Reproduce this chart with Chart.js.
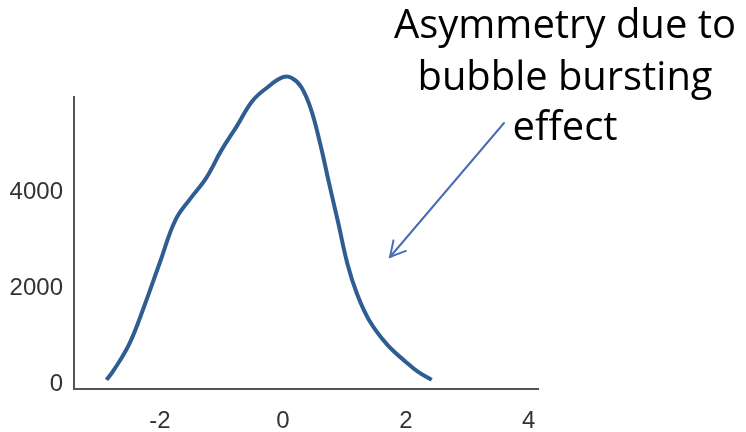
<!DOCTYPE html>
<html>
<head>
<meta charset="utf-8">
<script src="https://cdn.jsdelivr.net/npm/chart.js@4/dist/chart.umd.min.js"></script>
<style>
  html, body { margin: 0; padding: 0; background: #ffffff; }
  #wrap { position: relative; width: 746px; height: 432px; }
</style>
</head>
<body>
<div id="wrap"><canvas id="chart"></canvas></div>
<script>
// Distribution of the measured quantity (counts per bin)
const binCenters = [-2.87, -2.75, -2.5, -2.25, -2.0, -1.75, -1.5, -1.25, -1.0, -0.75,
                    -0.5, -0.25, 0.0, 0.15, 0.3, 0.45, 0.6, 0.75, 0.9, 1.05,
                    1.2, 1.4, 1.7, 2.0, 2.2, 2.42];
const counts = [0, 208, 750, 1563, 2458, 3333, 3792, 4208, 4792, 5292,
                5812, 6104, 6312, 6292, 6104, 5667, 4958, 4104, 3271, 2417,
                1812, 1250, 729, 375, 167, 0];
const xTicks = [-2, 0, 2, 4];
const yTicks = [0, 2000, 4000];
const noteLines = ['Asymmetry due to', 'bubble bursting', 'effect'];

const points = binCenters.map((x, i) => ({ x: x, y: counts[i] }));

// Callout text with an arrow pointing at the right-hand tail
const calloutPlugin = {
  id: 'callout',
  afterDraw(chart) {
    const ctx = chart.ctx;
    ctx.save();
    ctx.fillStyle = '#000000';
    ctx.font = '40px "Open Sans", "Noto Sans", sans-serif';
    ctx.textAlign = 'center';
    ctx.textBaseline = 'alphabetic';
    const cx = 565;
    const baselines = [38, 90, 140];
    const widths = [345, 295, 105];
    noteLines.forEach((t, i) => ctx.fillText(t, cx, baselines[i], widths[i]));

    // arrow
    const x0 = 504, y0 = 123, x1 = 390, y1 = 257;
    ctx.strokeStyle = '#4a6cb3';
    ctx.lineWidth = 2;
    ctx.lineCap = 'round';
    ctx.beginPath();
    ctx.moveTo(x0, y0);
    ctx.lineTo(x1, y1);
    ctx.stroke();
    const ang = Math.atan2(y1 - y0, x1 - x0);
    const len = 17, spread = 0.5;
    ctx.beginPath();
    ctx.moveTo(x1 - len * Math.cos(ang - spread), y1 - len * Math.sin(ang - spread));
    ctx.lineTo(x1, y1);
    ctx.lineTo(x1 - len * Math.cos(ang + spread), y1 - len * Math.sin(ang + spread));
    ctx.stroke();
    ctx.restore();
  }
};

const tickFont = { family: '"Liberation Sans", Arial, sans-serif', size: 24 };

new Chart(document.getElementById('chart'), {
  type: 'line',
  data: {
    datasets: [{
      data: points,
      borderColor: '#2f5d92',
      borderWidth: 4,
      pointRadius: 0,
      fill: false,
      tension: 0.4,
      clip: false
    }]
  },
  options: {
    responsive: true,
    maintainAspectRatio: false,
    animation: false,
    events: [],
    layout: { padding: { left: 0, right: 208, top: 97, bottom: 0 } },
    plugins: { legend: { display: false }, tooltip: { enabled: false } },
    scales: {
      x: {
        type: 'linear',
        min: -3.4,
        max: 4.15,
        afterBuildTicks: s => { s.ticks = xTicks.map(v => ({ value: v })); },
        afterFit: s => { s.height = 43; },
        grid: { display: false, drawTicks: false },
        border: { display: true, color: '#555555', width: 2 },
        ticks: { color: '#333333', font: tickFont, padding: 18, maxRotation: 0,
                 callback: v => String(v) }
      },
      y: {
        type: 'linear',
        min: -190,
        max: 5900,
        afterBuildTicks: s => { s.ticks = yTicks.map(v => ({ value: v })); },
        afterFit: s => { s.width = 74; },
        grid: { display: false, drawTicks: false },
        border: { display: true, color: '#555555', width: 2 },
        ticks: { color: '#333333', font: tickFont, padding: 11, labelOffset: 4,
                 callback: v => String(v) }
      }
    }
  },
  plugins: [calloutPlugin]
});
</script>
</body>
</html>
